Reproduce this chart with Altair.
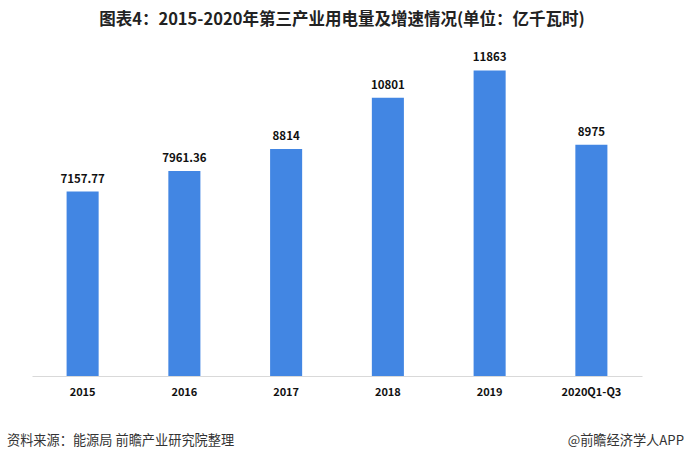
import altair as alt
import pandas as pd

years = ["2015", "2016", "2017", "2018", "2019", "2020Q1-Q3"]
values = [7157.77, 7961.36, 8814, 10801, 11863, 8975]
labels = ["7157.77", "7961.36", "8814", "10801", "11863", "8975"]

df = pd.DataFrame({"year": years, "value": values, "label": labels})

FONT = "Noto Sans CJK SC"

x = alt.X("year:N", sort=years, title=None,
          scale=alt.Scale(paddingInner=0.685, paddingOuter=0.34),
          axis=alt.Axis(labelAngle=0, ticks=False, domainColor="#d9d9d9",
                        labelFont=FONT, labelFontWeight="bold", labelFontSize=11,
                        labelColor="#111", labelPadding=10))
y = alt.Y("value:Q", title=None, scale=alt.Scale(domain=[0, 12500], nice=False),
          axis=None)

bars = alt.Chart(df).mark_bar(color="#4286E3").encode(x=x, y=y)
text = alt.Chart(df).mark_text(font=FONT, fontWeight="bold", fontSize=11.5,
                               color="#111", baseline="bottom", dy=-7).encode(
    x=x, y=y, text="label:N")

src = alt.Chart(pd.DataFrame({"t": ["资料来源：能源局 前瞻产业研究院整理"]})).mark_text(
    font=FONT, fontSize=13.2, color="#333", align="left", baseline="middle").encode(
    x=alt.value(-25), y=alt.value(387), text="t:N")
app = alt.Chart(pd.DataFrame({"t": ["@前瞻经济学人APP"]})).mark_text(
    font=FONT, fontSize=13.2, color="#333", align="right", baseline="middle").encode(
    x=alt.value(652), y=alt.value(387), text="t:N")

chart = alt.layer(bars, text, src, app).properties(
    width=610, height=322,
    background="white",
    title=alt.TitleParams("图表4：2015-2020年第三产业用电量及增速情况(单位：亿千瓦时)",
                          font=FONT, fontSize=16.5, fontWeight="bold", color="#222",
                          anchor="middle", offset=24, dx=5),
    autosize=alt.AutoSizeParams(type="none"),
    padding={"left": 32, "top": 54, "right": 42, "bottom": 87},
).configure_view(strokeWidth=0, stroke="transparent")

chart.save("out.html", embed_options={"renderer": "svg", "actions": False})
